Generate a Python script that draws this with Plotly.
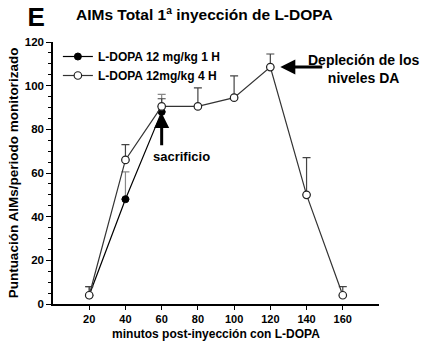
import plotly.graph_objects as go

minutes_1h = [20, 40, 60]
aims_1h = [4, 48, 88]
err_1h = [4, 12.5, 8]

minutes_4h = [20, 40, 60, 80, 100, 120, 140, 160]
aims_4h = [4, 66, 90.5, 90.5, 94.5, 108.5, 50, 4]
err_4h = [4, 7, 3.5, 8.5, 10, 6, 17, 4]

x_ticks = [20, 40, 60, 80, 100, 120, 140, 160]
y_ticks = [0, 20, 40, 60, 80, 100, 120]

FONT = "Arial, Liberation Sans, Helvetica, sans-serif"

fig = go.Figure()
fig.add_trace(go.Scatter(
    x=minutes_1h, y=aims_1h, mode="lines+markers",
    name="<b>L-DOPA 12 mg/kg 1 H</b>",
    line=dict(color="black", width=1.2),
    marker=dict(symbol="circle", size=7, color="black", line=dict(color="black", width=1)),
    error_y=dict(type="data", symmetric=False, array=err_1h, arrayminus=[0]*len(err_1h),
                 color="#888888", thickness=1.2, width=4),
    cliponaxis=False,
))
fig.add_trace(go.Scatter(
    x=minutes_4h, y=aims_4h, mode="lines+markers",
    name="<b>L-DOPA 12mg/kg 4 H</b>",
    line=dict(color="#333333", width=1.2),
    marker=dict(symbol="circle", size=7.5, color="white", line=dict(color="#222222", width=1.2)),
    error_y=dict(type="data", symmetric=False, array=err_4h, arrayminus=[0]*len(err_4h),
                 color="#444444", thickness=1.2, width=4),
    cliponaxis=False,
))

fig.update_layout(
    width=425, height=351,
    margin=dict(l=53, r=46, t=42, b=45),
    paper_bgcolor="white", plot_bgcolor="white",
    font=dict(family=FONT, size=11, color="black"),
    showlegend=True,
    title=dict(text="<b>E</b>", xref="container", yref="container", x=0.085, y=0.952,
               xanchor="center", yanchor="middle", font=dict(size=26, family=FONT, color="black")),
    legend=dict(x=0.015, y=1.0, xanchor="left", yanchor="top",
                bgcolor="rgba(0,0,0,0)", font=dict(size=12, family=FONT),
                tracegroupgap=0, itemwidth=30),
)
fig.update_xaxes(
    range=[0, 180], tickvals=x_ticks, ticktext=[f"<b>{v}</b>" for v in x_ticks],
    showline=True, linecolor="black", linewidth=1.5,
    ticks="outside", ticklen=4, tickcolor="black", showgrid=False, zeroline=False,
    tickfont=dict(size=11, family=FONT),
    title=dict(text="<b>minutos post-inyección con L-DOPA</b>", font=dict(size=12, family=FONT), standoff=6),
)
fig.update_yaxes(
    range=[0, 120], tickvals=y_ticks, ticktext=[f"<b>{v}</b>" for v in y_ticks],
    showline=True, linecolor="black", linewidth=1.5,
    ticks="outside", ticklen=5, tickcolor="black", showgrid=False, zeroline=False,
    minor=dict(dtick=5, ticks="outside", ticklen=3, tickcolor="black"),
    tickfont=dict(size=11.5, family=FONT),
    title=dict(text="<b>Puntuación AIMs/periodo monitorizado</b>", font=dict(size=13.5, family=FONT), standoff=3),
)

fig.add_annotation(text="<b>AIMs Total 1ª inyección de L-DOPA</b>", xref="paper", yref="paper",
                   x=0.065, y=1.0, yshift=28, xanchor="left", yanchor="middle",
                   showarrow=False, font=dict(size=15.5, family=FONT))

# arrows
fig.add_annotation(x=60, y=87.5, ax=60, ay=72, xref="x", yref="y", axref="x", ayref="y",
                   text="", showarrow=True, arrowhead=2, arrowsize=1, arrowwidth=3, arrowcolor="black")
fig.add_annotation(x=71, y=67.5, xref="x", yref="y", text="<b>sacrificio</b>",
                   showarrow=False, font=dict(size=13, family=FONT))
fig.add_annotation(x=125.5, y=108.6, ax=149.5, ay=108.6, xref="x", yref="y", axref="x", ayref="y",
                   text="", showarrow=True, arrowhead=2, arrowsize=1, arrowwidth=3, arrowcolor="black")
fig.add_annotation(x=171.5, y=107.5, xref="x", yref="y", text="<b>Depleción de los<br>niveles DA</b>",
                   showarrow=False, align="center", font=dict(size=14, family=FONT))

fig.write_html("out.html")
